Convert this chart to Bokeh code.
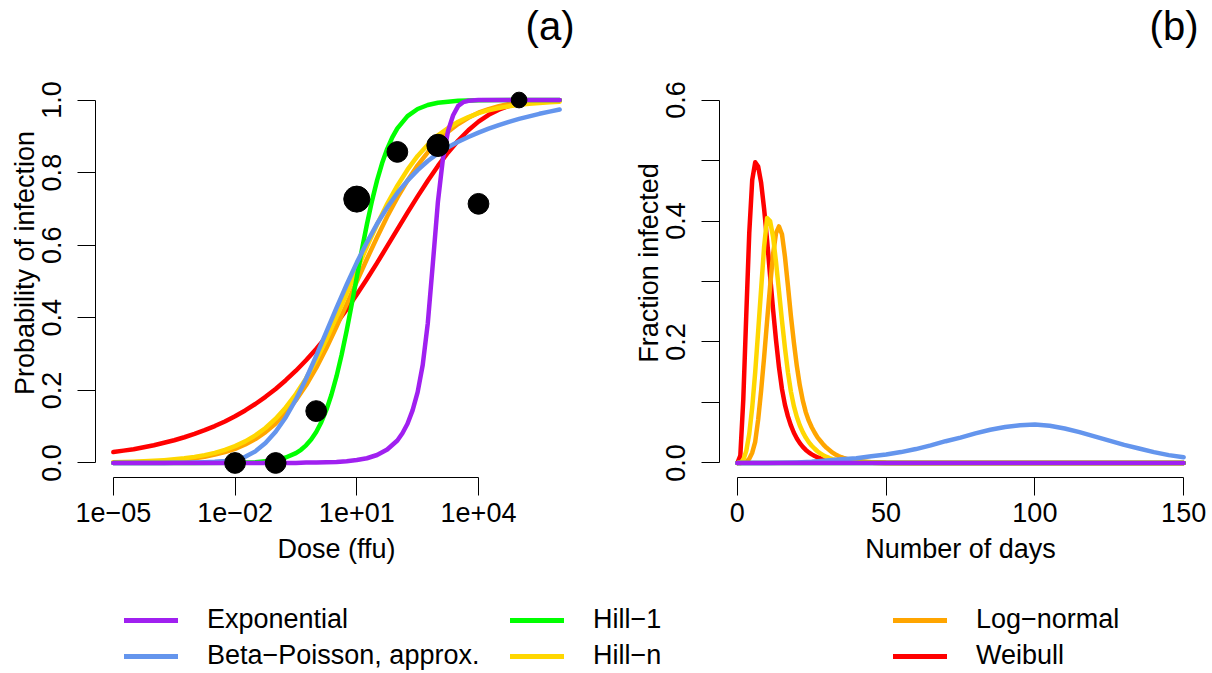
import numpy as np
from bokeh.plotting import figure
from bokeh.layouts import column, row
from bokeh.models import (FixedTicker, CustomJSTickFormatter, Range1d, Legend,
                          LegendItem)
from bokeh.embed import file_html
from bokeh.resources import INLINE

FONT = "Liberation Sans"
FS = "27px"

# ---------------- legend / series identity ----------------
model_names = ["Exponential", "Beta\u2212Poisson, approx.", "Hill\u22121",
               "Hill\u2212n", "Log\u2212normal", "Weibull"]
model_colors = ["#A020F0", "#6495ED", "#00FF00", "#FFD700", "#FFA500", "#FF0000"]

# ---------------- panel (a): observed data ----------------
obs_dose = [1e-2, 1e-1, 1e0, 1e1, 1e2, 1e3, 1e4, 1e5]
obs_infected = [0.0, 0.0, 0.143, 0.727, 0.857, 0.875, 0.714, 1.0]
obs_animals = [7, 7, 7, 11, 7, 8, 7, 4]

# ---------------- panel (a): fitted dose-response curves (log10 dose) ----------------
grid_log10 = [-5.0, -4.75, -4.5, -4.25, -4.0, -3.75, -3.5, -3.25, -3.0, -2.75,
              -2.5, -2.25, -2.0, -1.75, -1.5, -1.25, -1.0, -0.75, -0.5, -0.25,
              0.0, 0.25, 0.5, 0.75, 1.0, 1.25, 1.5, 1.75, 2.0, 2.25,
              2.5, 2.75, 3.0, 3.25, 3.5, 3.75, 4.0, 4.25, 4.5, 4.75,
              5.0, 5.25, 5.5, 5.75, 6.0]

weibull_a = [0.030, 0.034, 0.038, 0.0435, 0.049, 0.0556, 0.0627, 0.0709, 0.080, 0.0903,
             0.1017, 0.1145, 0.1288, 0.1448, 0.1625, 0.1822, 0.2040, 0.2280, 0.2542, 0.2830,
             0.3142, 0.3481, 0.3842, 0.4230, 0.4640, 0.5071, 0.5514, 0.5973, 0.6435, 0.6896,
             0.7345, 0.7777, 0.8184, 0.8556, 0.8884, 0.9168, 0.9405, 0.9592, 0.9734, 0.9836,
             0.9906, 0.9950, 0.9975, 0.9989, 0.9996]

lognormal_a = [0.001, 0.0015, 0.002, 0.003, 0.004, 0.0055, 0.0075, 0.010, 0.013, 0.017,
               0.023, 0.030, 0.039, 0.051, 0.066, 0.085, 0.109, 0.138, 0.173, 0.214,
               0.262, 0.316, 0.375, 0.437, 0.500, 0.562, 0.622, 0.679, 0.731, 0.778,
               0.820, 0.856, 0.887, 0.913, 0.934, 0.951, 0.965, 0.975, 0.983, 0.989,
               0.993, 0.995, 0.997, 0.998, 0.999]

hilln_a = [0.0021, 0.0027, 0.0035, 0.0046, 0.0059, 0.0077, 0.0100, 0.0129, 0.0168, 0.0217,
           0.0279, 0.0359, 0.0465, 0.0595, 0.0759, 0.0964, 0.122, 0.153, 0.190, 0.233,
           0.284, 0.340, 0.402, 0.466, 0.531, 0.596, 0.657, 0.714, 0.764, 0.808,
           0.846, 0.877, 0.903, 0.923, 0.940, 0.953, 0.964, 0.972, 0.978, 0.983,
           0.987, 0.990, 0.992, 0.994, 0.9954]

betapoisson_a = [0.0, 0.0, 0.0, 0.0, 0.0, 0.0002, 0.0004, 0.0007, 0.0012, 0.002,
                 0.0033, 0.0053, 0.0085, 0.017, 0.032, 0.055, 0.086, 0.126, 0.175, 0.232,
                 0.295, 0.361, 0.427, 0.491, 0.552, 0.608, 0.659, 0.704, 0.744, 0.778,
                 0.807, 0.832, 0.853, 0.870, 0.885, 0.898, 0.910, 0.921, 0.931, 0.940,
                 0.948, 0.955, 0.962, 0.968, 0.974]

hill1_log10 = [-5.0, -4.0, -3.0, -2.0, -1.5, -1.0, -0.75, -0.5, -0.375, -0.25,
               -0.125, 0.0, 0.125, 0.25, 0.375, 0.5, 0.625, 0.75, 0.875, 1.0,
               1.125, 1.25, 1.375, 1.5, 1.625, 1.75, 1.875, 2.0, 2.25, 2.5,
               2.75, 3.0, 3.5, 4.0, 5.0, 6.0]
hill1_a = [0.0, 0.0, 0.0001, 0.0007, 0.0023, 0.0075, 0.0151, 0.0272, 0.0364, 0.0486,
           0.0646, 0.0855, 0.1124, 0.1462, 0.188, 0.2385, 0.2977, 0.3644, 0.4369, 0.512,
           0.5868, 0.6577, 0.7221, 0.7785, 0.8264, 0.8655, 0.8969, 0.9217, 0.9557, 0.9753,
           0.9863, 0.9925, 0.9977, 0.9993, 0.9999, 1.0]

expo_log10 = [-5.0, -1.0, -0.5, -0.25, 0.0, 0.25, 0.5, 0.75, 1.0, 1.25,
              1.5, 1.75, 2.0, 2.125, 2.25, 2.375, 2.5, 2.625, 2.75, 2.875,
              3.0, 3.125, 3.25, 3.375, 3.5, 3.625, 3.75, 4.0, 5.0, 6.0]
expo_a = [0.0, 0.0, 0.0, 0.001, 0.001, 0.002, 0.003, 0.005, 0.008, 0.013,
          0.022, 0.037, 0.062, 0.082, 0.108, 0.145, 0.195, 0.27, 0.385, 0.55,
          0.72, 0.84, 0.915, 0.958, 0.984, 0.994, 0.998, 1.0, 1.0, 1.0]

dose_ticks = [1e-5, 1e-2, 1e1, 1e4]
dose_tick_labels = ["1e\u221205", "1e\u221202", "1e+01", "1e+04"]
prob_ticks = [0.0, 0.2, 0.4, 0.6, 0.8, 1.0]
prob_tick_labels = ["0.0", "0.2", "0.4", "0.6", "0.8", "1.0"]

# ---------------- panel (b): fraction infected over time ----------------
days_fast = list(range(0, 41)) + [45, 50, 60, 80, 100, 150]
weibull_b = [0.0, 0.012, 0.105, 0.245, 0.38, 0.468, 0.497, 0.49, 0.463, 0.42,
             0.368, 0.31, 0.254, 0.203, 0.158, 0.122, 0.096, 0.077, 0.062, 0.050,
             0.0405, 0.0328, 0.0266, 0.0216, 0.0175, 0.0142, 0.0115, 0.0093, 0.0075, 0.006,
             0.0048, 0.0038, 0.003, 0.0024, 0.0019, 0.0015, 0.0012, 0.001, 0.0008, 0.0006,
             0.0005, 0.0002, 0.0001, 0.0, 0.0, 0.0, 0.0]
hilln_b = [0.0, 0.001, 0.005, 0.02, 0.048, 0.092, 0.15, 0.218, 0.288, 0.358,
           0.405, 0.400, 0.374, 0.332, 0.284, 0.235, 0.19, 0.15, 0.118, 0.094,
           0.076, 0.062, 0.051, 0.042, 0.0345, 0.0285, 0.0235, 0.019, 0.0155, 0.0125,
           0.010, 0.008, 0.0064, 0.0051, 0.004, 0.0032, 0.0025, 0.002, 0.0016, 0.0013,
           0.001, 0.0004, 0.0001, 0.0, 0.0, 0.0, 0.0]
lognormal_b = [0.0, 0.0, 0.001, 0.002, 0.007, 0.017, 0.035, 0.072, 0.12, 0.175,
               0.235, 0.292, 0.345, 0.38, 0.391, 0.378, 0.341, 0.293, 0.243, 0.199,
               0.160, 0.128, 0.103, 0.084, 0.070, 0.059, 0.050, 0.042, 0.036, 0.030,
               0.025, 0.021, 0.017, 0.014, 0.0115, 0.0095, 0.0078, 0.0064, 0.0052, 0.0043,
               0.0035, 0.0013, 0.0005, 0.0001, 0.0, 0.0, 0.0]
days_slow = [0, 5, 10, 15, 20, 25, 30, 35, 40, 45, 50, 55, 60, 65, 70, 75, 80, 85,
             90, 95, 100, 105, 110, 115, 120, 125, 130, 135, 140, 145, 150]
betapoisson_b = [0.0, 0.0, 0.0, 0.0005, 0.001, 0.002, 0.004, 0.006, 0.008, 0.011,
                 0.014, 0.018, 0.023, 0.029, 0.036, 0.042, 0.049, 0.055, 0.0595, 0.0625,
                 0.0635, 0.0615, 0.057, 0.051, 0.044, 0.037, 0.030, 0.024, 0.018, 0.013,
                 0.0095]
days_flat = [0, 150]
hill1_b = [0.0, 0.0]
expo_b = [0.0, 0.0]

day_ticks = [0, 50, 100, 150]
day_tick_labels = ["0", "50", "100", "150"]
frac_ticks = [0.0, 0.1, 0.2, 0.3, 0.4, 0.5, 0.6]
frac_tick_labels = ["0.0", "", "0.2", "", "0.4", "", "0.6"]

LW = 4.5
PLOT_H = 392        # height of R's plot region (px)
TITLE_ROOM = 37     # extra, invisible frame space kept above the plot region
FMT_CODE = """
for (let i = 0; i < tick_values.length; i++) {
    const t = tick_values[i];
    if (t === tick || Math.abs(t - tick) <= 1e-6 * Math.max(Math.abs(t), 1e-12)) return tick_texts[i];
}
return "";
"""


def style_axis(ax, ticks, labels):
    ax.ticker = FixedTicker(ticks=ticks)
    ax.formatter = CustomJSTickFormatter(args=dict(tick_values=ticks, tick_texts=labels),
                                         code=FMT_CODE)
    ax.bounds = (ticks[0], ticks[-1])
    ax.axis_line_color = "black"
    ax.axis_line_width = 1
    ax.major_tick_line_color = "black"
    ax.major_tick_line_width = 1
    ax.major_tick_out = 18
    ax.major_tick_in = 0
    ax.minor_tick_line_color = None
    ax.major_label_text_font = FONT
    ax.major_label_text_font_size = FS
    ax.major_label_text_color = "black"
    ax.axis_label_text_font = FONT
    ax.axis_label_text_font_size = FS
    ax.axis_label_text_font_style = "normal"
    ax.axis_label_text_color = "black"


def base_fig(title, y_lo, y_hi, **kw):
    # the frame is extended upward by TITLE_ROOM px; the y axis stays bounded to its ticks
    y_top = y_hi + (y_hi - y_lo) * TITLE_ROOM / PLOT_H
    p = figure(frame_width=482, frame_height=PLOT_H + TITLE_ROOM,
               min_border_top=48, min_border_bottom=93,
               y_range=Range1d(y_lo, y_top),
               output_backend="svg", toolbar_location=None, title=title, **kw)
    p.outline_line_color = None
    p.xgrid.visible = False
    p.ygrid.visible = False
    p.background_fill_color = "white"
    p.border_fill_color = "white"
    p.title.align = "right"
    p.title.offset = 3
    p.title.text_font = FONT
    p.title.text_font_size = "40px"
    p.title.text_font_style = "normal"
    p.title.text_color = "black"
    p.title.standoff = 2
    return p


def finish_axes(p, xlabel, ylabel):
    p.xaxis[0].axis_label = xlabel
    p.yaxis[0].axis_label = ylabel
    p.xaxis[0].major_label_standoff = 7
    p.xaxis[0].axis_label_standoff = 9
    p.yaxis[0].major_label_orientation = "vertical"
    p.yaxis[0].major_label_standoff = 16
    p.yaxis[0].axis_label_standoff = 0


# ---------------- panel (a) ----------------
pa = base_fig("(a)", -0.04, 1.04, x_axis_type="log",
              x_range=Range1d(10 ** -5.44, 10 ** 6.44),
              min_border_left=95, min_border_right=29)
style_axis(pa.xaxis[0], dose_ticks, dose_tick_labels)
style_axis(pa.yaxis[0], prob_ticks, prob_tick_labels)
finish_axes(pa, "Dose (ffu)", "Probability of infection")

curves_a = [
    (grid_log10, weibull_a, 5),
    (grid_log10, lognormal_a, 4),
    (grid_log10, hilln_a, 3),
    (hill1_log10, hill1_a, 2),
    (grid_log10, betapoisson_a, 1),
    (expo_log10, expo_a, 0),
]
for xs, ys, k in curves_a:
    pa.line([10 ** v for v in xs], ys, line_color=model_colors[k], line_width=LW,
            line_cap="round", line_join="round")

marker_size = [2 * 10.4 * (n / 7) ** 0.5 for n in obs_animals]
pa.scatter(obs_dose, obs_infected, size=marker_size, marker="circle",
           fill_color="black", line_color="black")

# ---------------- panel (b) ----------------
pb = base_fig("(b)", -0.024, 0.624, x_range=Range1d(-6, 156),
              min_border_left=113, min_border_right=11)
style_axis(pb.xaxis[0], day_ticks, day_tick_labels)
style_axis(pb.yaxis[0], frac_ticks, frac_tick_labels)
finish_axes(pb, "Number of days", "Fraction infected")

curves_b = [
    (days_fast, weibull_b, 5),
    (days_fast, lognormal_b, 4),
    (days_fast, hilln_b, 3),
    (days_flat, hill1_b, 2),
    (days_slow, betapoisson_b, 1),
    (days_flat, expo_b, 0),
]
for xs, ys, k in curves_b:
    pb.line(xs, ys, line_color=model_colors[k], line_width=LW,
            line_cap="round", line_join="round")

# ---------------- legend strip ----------------
pl = figure(width=1212, height=103, min_border=0, output_backend="svg",
            toolbar_location=None, x_axis_location=None, y_axis_location=None,
            x_range=Range1d(0, 1), y_range=Range1d(0, 1))
pl.outline_line_color = None
pl.xgrid.visible = False
pl.ygrid.visible = False

legend_columns = [([0, 1], (124, 2)), ([2, 3], (510, 2)), ([4, 5], (893, 2))]
for idxs, loc in legend_columns:
    items = []
    for k in idxs:
        # legend key only: a single NaN point draws nothing in the strip
        r = pl.line(x=np.array([np.nan]), y=np.array([np.nan]),
                    line_color=model_colors[k], line_width=5, line_cap="round")
        items.append(LegendItem(label=model_names[k], renderers=[r]))
    lg = Legend(items=items, location=loc, orientation="vertical",
                glyph_width=54, glyph_height=30, label_height=30, label_standoff=29,
                spacing=5, padding=0, margin=0, border_line_color=None,
                background_fill_alpha=0, label_text_font=FONT, label_text_font_size=FS,
                label_text_color="black")
    pl.add_layout(lg)

layout = column(row(pa, pb), pl)
open("out.html", "w").write(file_html(layout, INLINE, "Dose response"))
